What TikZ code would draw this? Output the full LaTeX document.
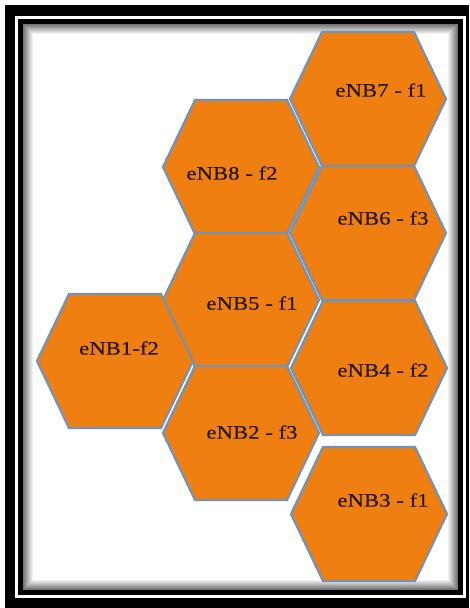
\documentclass[tikz,border=0pt]{standalone}
\usepackage{fontspec}
\setmainfont{Liberation Serif}[FakeStretch=1.2,FakeBold=0.4]
\definecolor{hexfill}{RGB}{239,127,17}
\definecolor{hexline}{RGB}{118,146,178}
\definecolor{txt}{RGB}{38,22,12}
\begin{document}
\begin{tikzpicture}[x=1pt,y=-1pt,
  hexcell/.style={fill=hexfill,draw=hexline,line width=2.2pt,line join=miter},
  lbl/.style={text=txt,font=\fontsize{19}{22}\selectfont,inner sep=0pt}]
\useasboundingbox (0,0) rectangle (469,608);
\fill[white] (0,0) rectangle (469,608);
% frame
\fill[black] (5,5) rectangle (469,608);
\fill[white] (15,16) rectangle (466,598);
\fill[black] (18,19) rectangle (463,595);
\fill[white] (23,24) rectangle (458,590);
\foreach \i in {0,...,9} {
  \pgfmathsetmacro\g{55-5.5*\i}
  \draw[black!\g, line width=1pt] (23.5+\i,24.5+\i) rectangle (457.5-\i,589.5-\i);
}
% hexagons
\foreach \cx/\cy in {368/99, 368/233, 369/368, 369/514, 241/167, 241/300, 241/433, 115/361} {
  \draw[hexcell] (\cx-78,\cy) -- (\cx-46,\cy-67) -- (\cx+46,\cy-67) -- (\cx+78,\cy)
     -- (\cx+46,\cy+67) -- (\cx-46,\cy+67) -- cycle;
}
% labels
\node[lbl] (t7) at (381,90) {eNB7 - f1};
\node[lbl] (t6) at (383,218) {eNB6 - f3};
\node[lbl] (t4) at (383,370) {eNB4 - f2};
\node[lbl] (t3) at (383,500) {eNB3 - f1};
\node[lbl] (t8) at (232,173) {eNB8 - f2};
\node[lbl] (t5) at (252,303) {eNB5 - f1};
\node[lbl] (t2) at (252,432) {eNB2 - f3};
\node[lbl] (t1) at (119,348) {eNB1-f2};
\end{tikzpicture}
\end{document}
